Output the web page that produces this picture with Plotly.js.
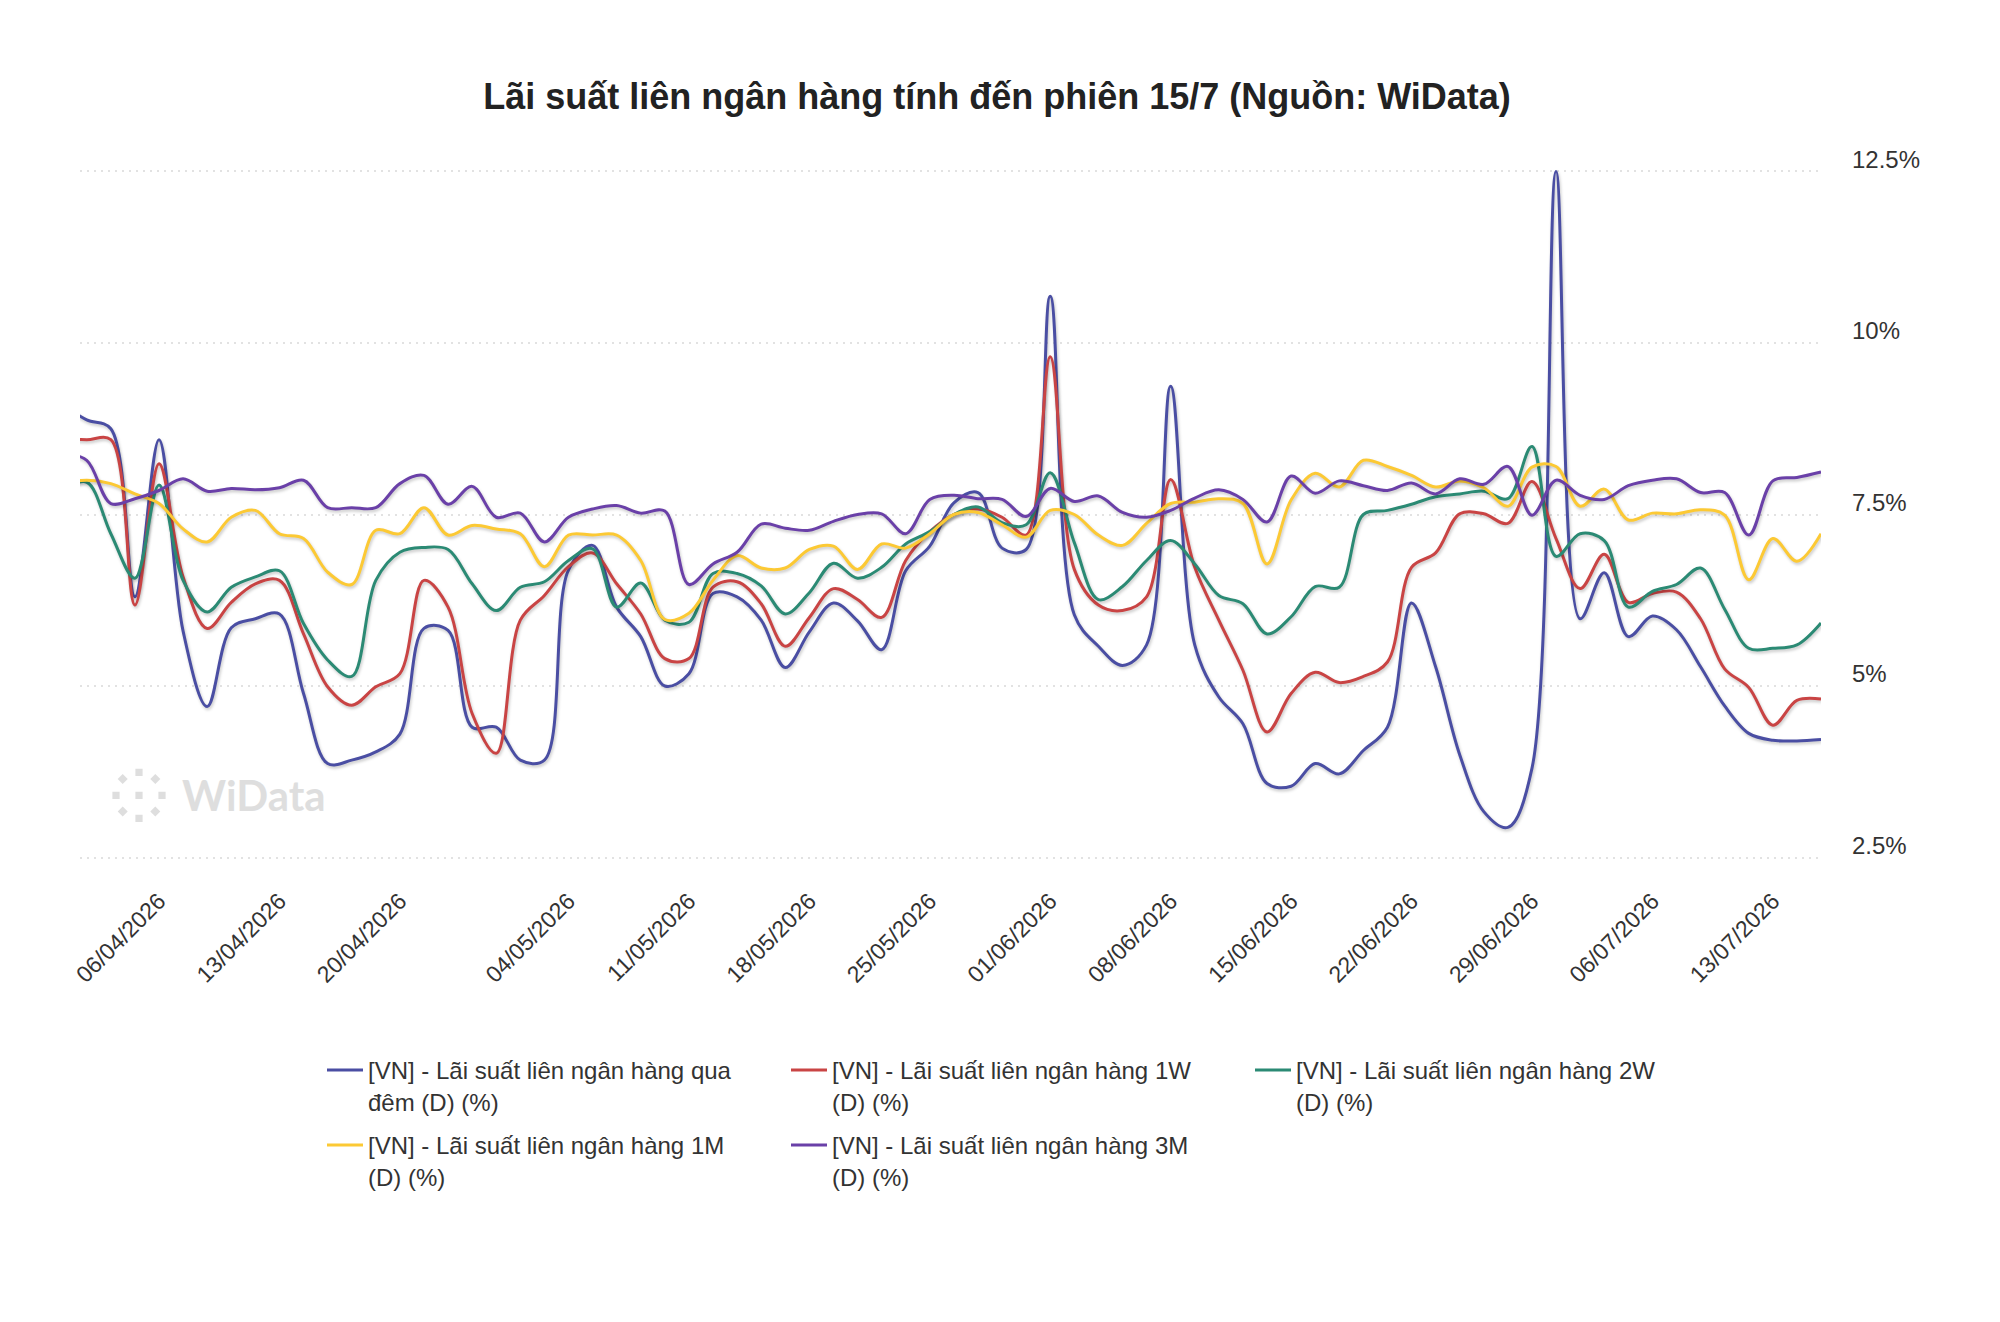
<!DOCTYPE html>
<html lang="vi">
<head>
<meta charset="utf-8">
<title>Lãi suất liên ngân hàng</title>
<script src="https://cdn.plot.ly/plotly-3.0.1.min.js"></script>
<style>
  html, body { margin: 0; padding: 0; background: #ffffff; }
  #chart { width: 2000px; height: 1322px; }
  /* soft drop shadow under each series line */
  #chart .scatterlayer .js-line { filter: drop-shadow(1px 2px 1.5px rgba(0, 0, 0, 0.22)); }
</style>
</head>
<body>
<div id="chart"></div>
<script>
// Trading sessions (weekends and holidays are skipped)
const dates = [
  "31/03/2026","01/04/2026","02/04/2026","03/04/2026","06/04/2026","07/04/2026","08/04/2026","09/04/2026","10/04/2026",
  "13/04/2026","14/04/2026","15/04/2026","16/04/2026","17/04/2026","20/04/2026","21/04/2026","22/04/2026","23/04/2026",
  "24/04/2026","28/04/2026","29/04/2026","04/05/2026","05/05/2026","06/05/2026","07/05/2026","08/05/2026","11/05/2026",
  "12/05/2026","13/05/2026","14/05/2026","15/05/2026","18/05/2026","19/05/2026","20/05/2026","21/05/2026","22/05/2026",
  "25/05/2026","26/05/2026","27/05/2026","28/05/2026","29/05/2026","01/06/2026","02/06/2026","03/06/2026","04/06/2026",
  "05/06/2026","08/06/2026","09/06/2026","10/06/2026","11/06/2026","12/06/2026","15/06/2026","16/06/2026","17/06/2026",
  "18/06/2026","19/06/2026","22/06/2026","23/06/2026","24/06/2026","25/06/2026","26/06/2026","29/06/2026","30/06/2026",
  "01/07/2026","02/07/2026","03/07/2026","06/07/2026","07/07/2026","08/07/2026","09/07/2026","10/07/2026","13/07/2026",
  "14/07/2026","15/07/2026"
];

// Weekly tick labels (Mondays)
const tickDates = [
  "06/04/2026","13/04/2026","20/04/2026","04/05/2026","11/05/2026","18/05/2026","25/05/2026",
  "01/06/2026","08/06/2026","15/06/2026","22/06/2026","29/06/2026","06/07/2026","13/07/2026"
];

// Interbank rates, % per year
const overnight = [
  9.10, 8.88, 8.75, 6.30, 8.59, 5.80, 4.70, 5.85, 5.98, 6.05, 4.89, 3.87, 3.92, 4.04, 4.30, 5.84, 5.81, 4.40,
  4.40, 3.92, 3.92, 6.69, 7.05, 6.15, 5.72, 5.00, 5.18, 6.35, 6.30, 5.96, 5.27, 5.79, 6.21, 5.95, 5.53, 6.68,
  7.04, 7.67, 7.82, 7.01, 6.99, 10.68, 6.04, 5.58, 5.30, 5.60, 9.37, 5.60, 4.84, 4.45, 3.58, 3.54, 3.87, 3.72,
  4.06, 4.40, 6.21, 5.28, 4.00, 3.17, 2.94, 3.80, 12.50, 5.98, 6.65, 5.72, 6.02, 5.82, 5.28, 4.71, 4.31, 4.21,
  4.20, 4.22
];
const week1 = [
  8.60, 8.59, 8.59, 6.18, 8.24, 6.59, 5.84, 6.22, 6.49, 6.54, 5.76, 4.99, 4.72, 4.99, 5.18, 6.54, 6.15, 4.60,
  4.02, 5.96, 6.32, 6.74, 6.94, 6.49, 6.05, 5.40, 5.40, 6.44, 6.52, 6.20, 5.58, 6.00, 6.42, 6.26, 6.00, 6.83,
  7.25, 7.50, 7.58, 7.46, 7.20, 9.80, 6.70, 6.18, 6.10, 6.30, 8.01, 6.73, 5.96, 5.23, 4.33, 4.89, 5.20, 5.05,
  5.14, 5.35, 6.73, 6.94, 7.51, 7.51, 7.37, 7.98, 7.15, 6.42, 6.92, 6.22, 6.35, 6.37, 5.98, 5.25, 4.98, 4.43,
  4.79, 4.81
];
const week2 = [
  7.85, 7.97, 7.22, 6.57, 7.93, 6.54, 6.08, 6.44, 6.59, 6.68, 5.91, 5.38, 5.14, 6.54, 6.95, 7.02, 6.99, 6.49,
  6.10, 6.44, 6.52, 6.83, 7.00, 6.15, 6.50, 5.96, 5.93, 6.64, 6.64, 6.46, 6.05, 6.36, 6.79, 6.57, 6.73, 7.07,
  7.25, 7.50, 7.61, 7.38, 7.35, 8.11, 7.09, 6.26, 6.45, 6.83, 7.12, 6.78, 6.32, 6.20, 5.76, 6.01, 6.45, 6.44,
  7.50, 7.56, 7.65, 7.76, 7.80, 7.84, 7.73, 8.49, 6.89, 7.22, 7.12, 6.15, 6.38, 6.48, 6.72, 6.12, 5.55, 5.55,
  5.60, 5.92
];
const month1 = [
  7.95, 8.00, 7.95, 7.80, 7.66, 7.29, 7.10, 7.46, 7.56, 7.22, 7.15, 6.66, 6.48, 7.27, 7.22, 7.60, 7.20, 7.34,
  7.29, 7.22, 6.74, 7.20, 7.20, 7.20, 6.83, 5.97, 6.06, 6.54, 6.90, 6.72, 6.72, 6.99, 7.04, 6.70, 7.07, 7.01,
  7.22, 7.50, 7.53, 7.35, 7.17, 7.56, 7.50, 7.20, 7.05, 7.37, 7.66, 7.68, 7.73, 7.66, 6.78, 7.71, 8.10, 7.90,
  8.29, 8.20, 8.07, 7.90, 7.99, 7.89, 7.62, 8.19, 8.20, 7.62, 7.87, 7.42, 7.52, 7.51, 7.57, 7.49, 6.55, 7.15,
  6.82, 7.22
];
const month3 = [
  8.40, 8.29, 7.66, 7.73, 7.85, 8.02, 7.84, 7.88, 7.86, 7.89, 8.00, 7.60, 7.60, 7.60, 7.95, 8.07, 7.65, 7.91,
  7.46, 7.52, 7.10, 7.46, 7.58, 7.63, 7.52, 7.55, 6.48, 6.78, 6.95, 7.36, 7.30, 7.27, 7.40, 7.50, 7.51, 7.22,
  7.72, 7.78, 7.73, 7.72, 7.47, 7.88, 7.69, 7.77, 7.53, 7.46, 7.56, 7.74, 7.86, 7.72, 7.39, 8.06, 7.81, 7.99,
  7.92, 7.85, 7.96, 7.80, 8.02, 7.94, 8.20, 7.49, 8.00, 7.78, 7.72, 7.92, 8.00, 8.02, 7.82, 7.82, 7.20, 7.99,
  8.04, 8.12
];

const seriesNames = [
  "[VN] - Lãi suất liên ngân hàng qua<br>đêm (D) (%)",
  "[VN] - Lãi suất liên ngân hàng 1W<br>(D) (%)",
  "[VN] - Lãi suất liên ngân hàng 2W<br>(D) (%)",
  "[VN] - Lãi suất liên ngân hàng 1M<br>(D) (%)",
  "[VN] - Lãi suất liên ngân hàng 3M<br>(D) (%)"
];
const seriesValues = [overnight, week1, week2, month1, month3];
const seriesColors = ["#4a4ea3", "#c94444", "#2b8a74", "#fcc934", "#6a40a8"];
// first three entries on the first legend row, the rest on the second
const seriesLegend = ["legend", "legend", "legend", "legend2", "legend2"];

const yTickVals = [2.5, 5, 7.5, 10, 12.5];
const yTickText = ["2.5%", "5%", "7.5%", "10%", "12.5%"];

const traces = seriesValues.map((vals, k) => ({
  type: "scatter",
  mode: "lines",
  name: seriesNames[k],
  legend: seriesLegend[k],
  x: dates,
  y: vals,
  line: { color: seriesColors[k], width: 3, shape: "spline", smoothing: 1 },
  hoverinfo: "skip"
}));

// WiData mark: ring of small squares and diamonds around a centre square
function square(cx, cy, s) {
  return `M${cx - s},${cy - s}L${cx + s},${cy - s}L${cx + s},${cy + s}L${cx - s},${cy + s}Z`;
}
function diamond(cx, cy, s) {
  return `M${cx},${cy - s}L${cx + s},${cy}L${cx},${cy + s}L${cx - s},${cy}Z`;
}
const r = 23, d = 16.3;
const logoPath = [
  square(0, 0, 3.6), square(0, r, 3.6), square(0, -r, 3.6), square(r, 0, 3.6), square(-r, 0, 3.6),
  diamond(d, d, 5), diamond(-d, d, 5), diamond(d, -d, 5), diamond(-d, -d, 5)
].join("");

const legendBase = {
  orientation: "h",
  xref: "container", yref: "container",
  x: 0.161, xanchor: "left",
  yanchor: "top",
  entrywidth: 413,
  entrywidthmode: "pixels",
  itemwidth: 36,
  valign: "top",
  traceorder: "normal",
  font: { size: 24, color: "#333333" },
  bgcolor: "rgba(0,0,0,0)"
};

const layout = {
  width: 2000,
  height: 1322,
  margin: { l: 80, r: 179, t: 168, b: 461, pad: 0 },
  paper_bgcolor: "#ffffff",
  plot_bgcolor: "#ffffff",
  font: { family: "Liberation Sans, Arial, sans-serif", size: 23, color: "#333333" },
  title: {
    text: "Lãi suất liên ngân hàng tính đến phiên 15/7 (Nguồn: WiData)",
    font: { family: "Liberation Sans, Arial, sans-serif", size: 36, weight: "bold", color: "#222222" },
    xref: "container", yref: "container",
    x: 0.4985, xanchor: "center",
    y: 1 - 96 / 1322, yanchor: "middle"
  },
  xaxis: {
    type: "category",
    categoryorder: "array",
    categoryarray: dates,
    range: [0.72, 73],
    tickmode: "array",
    tickvals: tickDates,
    ticktext: tickDates,
    tickangle: -45,
    ticks: "",
    showgrid: false,
    zeroline: false,
    showline: false,
    tickfont: { size: 23, color: "#333333" },
    ticklabelstandoff: 21,
    fixedrange: true
  },
  yaxis: {
    side: "right",
    range: [2.45, 12.55],
    tickmode: "array",
    tickvals: yTickVals,
    ticktext: yTickText,
    ticks: "",
    showline: false,
    zeroline: false,
    showgrid: true,
    gridcolor: "#e2e2e2",
    gridwidth: 2,
    griddash: "2px,5px",
    tickfont: { size: 24, color: "#333333" },
    ticklabelstandoff: 30,
    ticklabelshift: -12,
    fixedrange: true
  },
  showlegend: true,
  legend: Object.assign({}, legendBase, { y: 1 - 1048 / 1322 }),
  legend2: Object.assign({}, legendBase, { y: 1 - 1123 / 1322 }),
  annotations: [{
    text: "WiData",
    xref: "paper", yref: "paper",
    x: (180 - 80) / 1741, xanchor: "left",
    y: (860.7 - 795) / 693, yanchor: "middle",
    showarrow: false,
    font: { family: "Lato, sans-serif", size: 42, weight: "bold", color: "#dedede" }
  }],
  shapes: [{
    type: "path",
    xref: "paper", yref: "paper",
    xsizemode: "pixel", ysizemode: "pixel",
    xanchor: (139 - 80) / 1741,
    yanchor: (860.7 - 795) / 693,
    path: logoPath,
    fillcolor: "#dedede",
    line: { width: 0 },
    layer: "below"
  }]
};

Plotly.newPlot("chart", traces, layout, { displayModeBar: false, staticPlot: true });
</script>
</body>
</html>
